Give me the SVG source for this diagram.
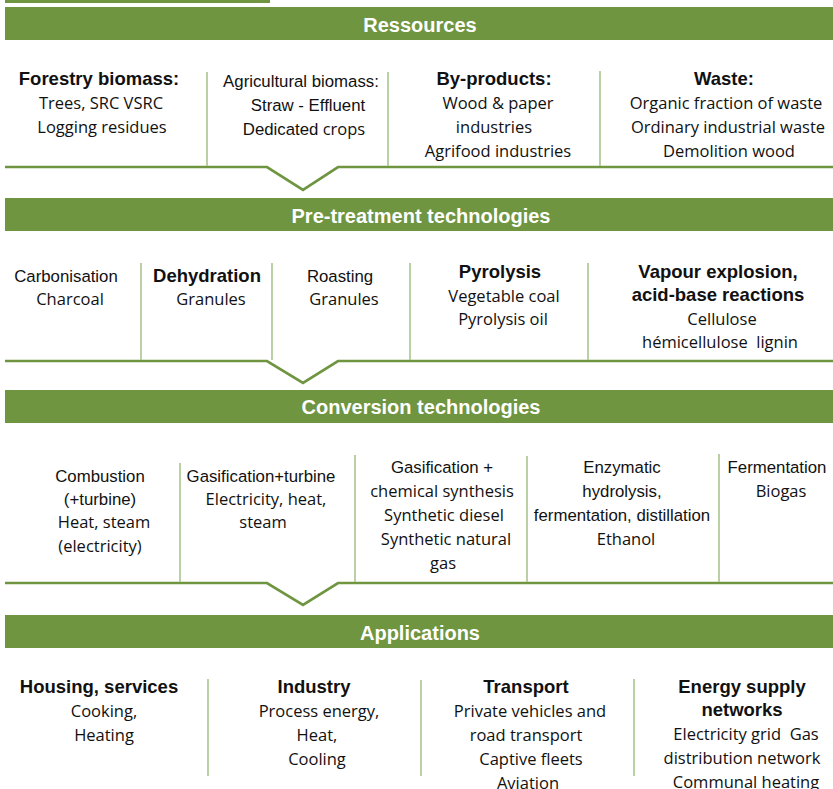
<svg xmlns="http://www.w3.org/2000/svg" width="833" height="789" viewBox="0 0 833 789">
<style>
.bar{fill:#6f9541}
.title{font-family:"Liberation Sans",Arial,sans-serif;font-weight:bold;font-size:20px;fill:#fff;text-anchor:middle}
.h{font-family:"Liberation Sans",Arial,sans-serif;font-weight:bold;font-size:18.5px;fill:#111;text-anchor:middle}
.b{font-family:"Open Sans","Noto Sans",sans-serif;font-size:16.5px;fill:#111;text-anchor:middle}
.n{font-family:"Liberation Sans",Arial,sans-serif;font-size:16.8px;fill:#111;text-anchor:middle}
.div{stroke:#a9c58e;stroke-width:1.6;fill:none}
.flow{stroke:#6f9541;stroke-width:2.7;fill:none;stroke-linejoin:miter}
</style>
<rect x="5" y="0" width="265" height="3" class="bar"/>

<g id="connectors">
<path class="flow" d="M5 167 H267 L303 190 L338 167 H833"/>
<path class="flow" d="M5 361 H267 L303 383 L338 361 H833"/>
<path class="flow" d="M5 583 H267 L303 605 L338 583 H833"/>
<g class="div">
<line x1="207" y1="72" x2="207" y2="166"/>
<line x1="388" y1="72" x2="388" y2="166"/>
<line x1="600" y1="71" x2="600" y2="166"/>
<line x1="141" y1="263" x2="141" y2="360"/>
<line x1="272" y1="263" x2="272" y2="360"/>
<line x1="410" y1="263" x2="410" y2="360"/>
<line x1="588" y1="263" x2="588" y2="360"/>
<line x1="180" y1="463" x2="180" y2="582"/>
<line x1="355" y1="455" x2="355" y2="582"/>
<line x1="527" y1="456" x2="527" y2="582"/>
<line x1="719" y1="454" x2="719" y2="582"/>
<line x1="208" y1="679" x2="208" y2="776"/>
<line x1="421" y1="680" x2="421" y2="776"/>
<line x1="634" y1="679" x2="634" y2="776"/>
</g>
</g>

<g id="ressources">
<rect x="5" y="7" width="828" height="33" class="bar"/>
<text x="420" y="32" class="title">Ressources</text>
</g>
<g id="forestry">
<text x="99" y="85" class="h">Forestry biomass:</text>
<text x="101" y="109" class="b">Trees, SRC VSRC</text>
<text x="102" y="133" class="b">Logging residues</text>
</g>
<g id="agricultural">
<text x="301" y="87" class="n">Agricultural biomass:</text>
<text x="308" y="111" class="n">Straw - Effluent</text>
<text x="304" y="135" class="n">Dedicated<tspan class="b" style="font-size:16.5px"> crops</tspan></text>
</g>
<g id="byproducts">
<text x="494" y="85" class="h">By-products:</text>
<text x="498" y="109" class="b">Wood &amp; paper</text>
<text x="494" y="133" class="b">industries</text>
<text x="498" y="157" class="b">Agrifood industries</text>
</g>
<g id="waste">
<text x="724" y="85" class="h">Waste:</text>
<text x="726" y="109" class="b">Organic fraction of waste</text>
<text x="728" y="133" class="b">Ordinary industrial waste</text>
<text x="729" y="157" class="b">Demolition wood</text>
</g>

<g id="pretreatment">
<rect x="5" y="198" width="828" height="33" class="bar"/>
<text x="421" y="223" class="title">Pre-treatment technologies</text>
</g>
<g id="carbonisation">
<text x="66" y="282" class="n">Carbonisation</text>
<text x="70" y="305" class="b">Charcoal</text>
</g>
<g id="dehydration">
<text x="207" y="282" class="h">Dehydration</text>
<text x="211" y="305" class="b">Granules</text>
</g>
<g id="roasting">
<text x="340" y="282" class="n">Roasting</text>
<text x="344" y="305" class="b">Granules</text>
</g>
<g id="pyrolysis">
<text x="500" y="278" class="h">Pyrolysis</text>
<text x="504" y="302" class="b">Vegetable coal</text>
<text x="503" y="325" class="b">Pyrolysis oil</text>
</g>
<g id="vapour">
<text x="718" y="278" class="h">Vapour explosion,</text>
<text x="718" y="301" class="h">acid-base reactions</text>
<text x="722" y="325" class="b">Cellulose</text>
<text x="720" y="348" class="b" xml:space="preserve">hémicellulose  lignin</text>
</g>

<g id="conversion">
<rect x="5" y="390" width="828" height="33" class="bar"/>
<text x="421" y="414" class="title">Conversion technologies</text>
</g>
<g id="combustion">
<text x="100" y="482" class="n">Combustion</text>
<text x="100" y="505" class="n">(+turbine)</text>
<text x="104" y="528" class="b">Heat, steam</text>
<text x="100" y="552" class="b">(electricity)</text>
</g>
<g id="gasturbine">
<text x="261" y="482" class="n">Gasification+turbine</text>
<text x="266" y="505" class="b">Electricity, heat,</text>
<text x="263" y="528" class="b">steam</text>
</g>
<g id="gassynthesis">
<text x="442" y="473" class="n">Gasification +</text>
<text x="442" y="497" class="b">chemical synthesis</text>
<text x="444" y="521" class="b">Synthetic diesel</text>
<text x="446" y="545" class="b">Synthetic natural</text>
<text x="443" y="569" class="b">gas</text>
</g>
<g id="enzymatic">
<text x="622" y="473" class="n">Enzymatic</text>
<text x="622" y="497" class="n">hydrolysis,</text>
<text x="622" y="521" class="n">fermentation, distillation</text>
<text x="626" y="545" class="b">Ethanol</text>
</g>
<g id="fermentation">
<text x="777" y="473" class="n">Fermentation</text>
<text x="781" y="497" class="b">Biogas</text>
</g>

<g id="applications">
<rect x="5" y="615" width="828" height="33" class="bar"/>
<text x="420" y="640" class="title">Applications</text>
</g>
<g id="housing">
<text x="99" y="693" class="h">Housing, services</text>
<text x="104" y="717" class="b">Cooking,</text>
<text x="104" y="741" class="b">Heating</text>
</g>
<g id="industry">
<text x="314" y="693" class="h">Industry</text>
<text x="319" y="717" class="b">Process energy,</text>
<text x="317" y="741" class="b">Heat,</text>
<text x="317" y="765" class="b">Cooling</text>
</g>
<g id="transport">
<text x="526" y="693" class="h">Transport</text>
<text x="530" y="717" class="b">Private vehicles and</text>
<text x="526" y="741" class="b">road transport</text>
<text x="531" y="765" class="b">Captive fleets</text>
<text x="528" y="789" class="b">Aviation</text>
</g>
<g id="energy">
<text x="742" y="693" class="h">Energy supply</text>
<text x="742" y="716" class="h">networks</text>
<text x="746" y="740" class="b" xml:space="preserve">Electricity grid  Gas</text>
<text x="742" y="764" class="b">distribution network</text>
<text x="746" y="788" class="b">Communal heating</text>
</g>
</svg>
